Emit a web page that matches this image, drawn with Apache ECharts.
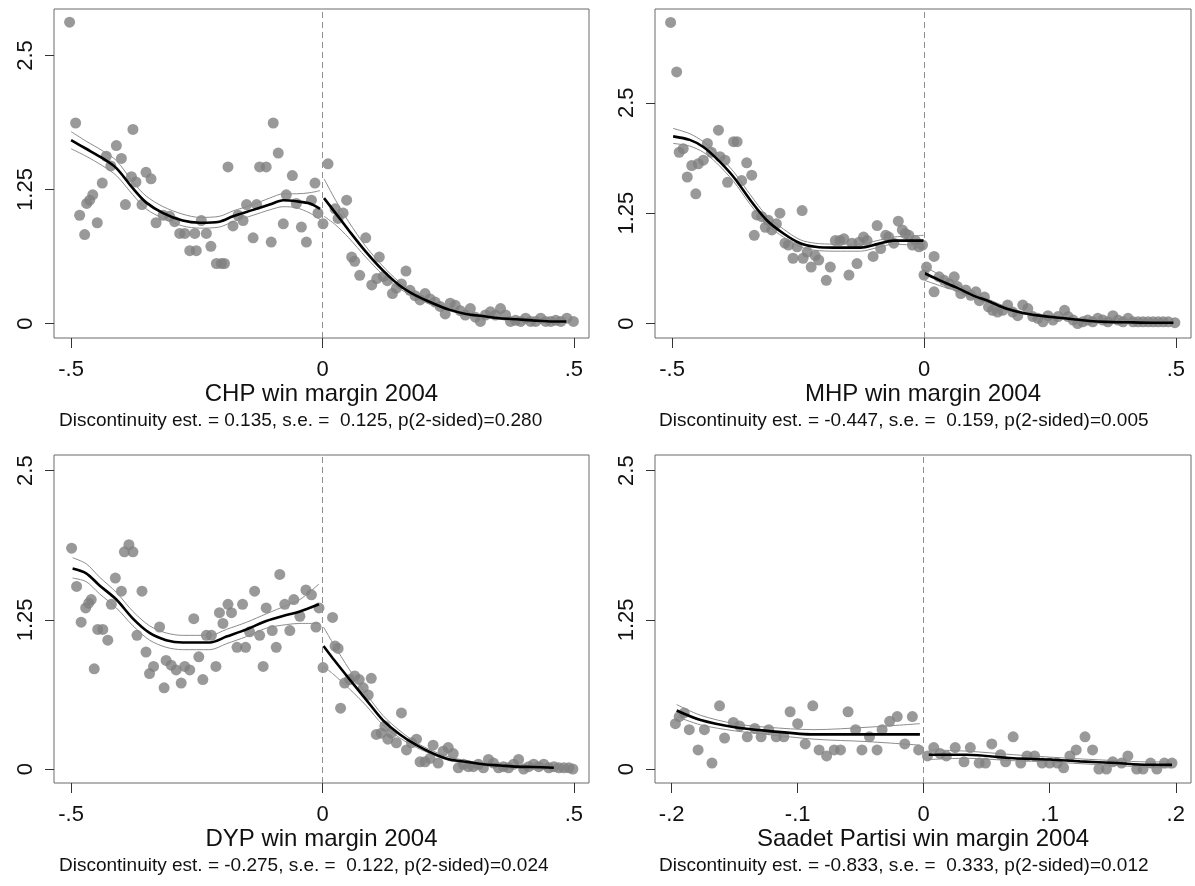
<!DOCTYPE html>
<html lang="en">
<head>
<meta charset="UTF-8">
<title>RD plots 2004</title>
<style>
    * { margin: 0; padding: 0; }
    body { background: #fff; }
    #chart { width: 1195px; height: 886px; }
</style>
</head>
<body>
<div id="chart"></div>
<script src="https://cdn.jsdelivr.net/npm/echarts@6/dist/echarts.min.js"></script>
<script>
// axis titles and notes under each panel
var axisTitles = ['CHP win margin 2004', 'MHP win margin 2004', 'DYP win margin 2004', 'Saadet Partisi win margin 2004'];
var notes = [
    'Discontinuity est. = 0.135, s.e. =  0.125, p(2-sided)=0.280',
    'Discontinuity est. = -0.447, s.e. =  0.159, p(2-sided)=0.005',
    'Discontinuity est. = -0.275, s.e. =  0.122, p(2-sided)=0.024',
    'Discontinuity est. = -0.833, s.e. =  0.333, p(2-sided)=0.012'
];
var xTicksWide = [-0.5, 0, 0.5];
var xTicksNarrow = [-0.2, -0.1, 0, 0.1, 0.2];
var yTicks = [0, 1.25, 2.5];

// binned means [x, y]
var chpPoints = [
    [-0.503,2.81],[-0.491,1.87],[-0.483,1.01],[-0.473,0.83],[-0.469,1.12],[-0.463,1.15],[-0.457,1.20],[-0.448,0.94],
    [-0.438,1.31],[-0.430,1.56],[-0.421,1.47],[-0.410,1.66],[-0.400,1.54],[-0.392,1.11],[-0.377,1.81],[-0.380,1.37],
    [-0.371,1.32],[-0.359,1.11],[-0.351,1.41],[-0.341,1.35],[-0.331,0.94],[-0.317,1.01],[-0.304,1.00],[-0.294,0.95],
    [-0.284,0.84],[-0.274,0.84],[-0.264,0.68],[-0.254,0.84],[-0.251,0.68],[-0.241,0.96],[-0.231,0.84],[-0.222,0.72],
    [-0.211,0.56],[-0.201,0.56],[-0.195,0.56],[-0.188,1.46],[-0.178,0.91],[-0.168,1.01],[-0.158,0.96],[-0.151,1.11],
    [-0.138,0.80],[-0.131,1.11],[-0.125,1.46],[-0.112,1.46],[-0.102,0.76],[-0.098,1.87],[-0.088,1.59],[-0.078,0.93],
    [-0.072,1.20],[-0.060,1.38],[-0.052,1.12],[-0.042,0.90],[-0.032,0.76],[-0.022,1.15],[-0.015,1.31],[-0.009,1.03],
    [0.001,0.93],[0.011,1.49],[0.025,1.07],[0.031,0.98],[0.041,1.03],[0.048,1.15],[0.058,0.62],[0.064,0.58],
    [0.074,0.45],[0.086,0.80],[0.098,0.36],[0.108,0.42],[0.113,0.62],[0.121,0.44],[0.129,0.40],[0.139,0.28],
    [0.147,0.33],[0.157,0.37],[0.166,0.49],[0.174,0.31],[0.184,0.26],[0.194,0.22],[0.204,0.28],[0.214,0.23],
    [0.224,0.20],[0.234,0.16],[0.244,0.09],[0.254,0.19],[0.264,0.17],[0.274,0.12],[0.284,0.08],[0.294,0.14],
    [0.304,0.06],[0.314,0.02],[0.324,0.08],[0.334,0.11],[0.344,0.08],[0.354,0.14],[0.364,0.08],[0.374,0.02],
    [0.384,0.03],[0.394,0.02],[0.404,0.05],[0.414,0.02],[0.424,0.02],[0.434,0.05],[0.444,0.02],[0.454,0.02],
    [0.464,0.03],[0.474,0.02],[0.486,0.05],[0.499,0.02]
];
var mhpPoints = [
    [-0.503,3.41],[-0.491,2.85],[-0.486,1.94],[-0.478,1.98],[-0.470,1.66],[-0.461,1.79],[-0.453,1.47],[-0.448,1.81],
    [-0.438,1.85],[-0.430,2.04],[-0.422,1.94],[-0.408,2.19],[-0.405,1.89],[-0.395,1.85],[-0.390,1.60],[-0.378,2.06],
    [-0.371,2.06],[-0.362,1.62],[-0.352,1.82],[-0.342,1.68],[-0.337,1.00],[-0.332,1.23],[-0.322,1.21],[-0.315,1.09],
    [-0.309,1.17],[-0.302,1.06],[-0.293,1.13],[-0.286,1.25],[-0.276,0.91],[-0.269,0.89],[-0.260,0.74],[-0.252,0.87],
    [-0.242,1.28],[-0.240,0.74],[-0.232,0.81],[-0.224,0.64],[-0.216,0.77],[-0.209,0.72],[-0.194,0.49],[-0.186,0.64],
    [-0.176,0.94],[-0.167,0.94],[-0.159,0.96],[-0.149,0.55],[-0.143,0.91],[-0.133,0.68],[-0.129,0.92],[-0.120,0.98],
    [-0.113,0.94],[-0.101,0.76],[-0.093,1.11],[-0.086,0.85],[-0.076,1.00],[-0.070,0.98],[-0.060,0.91],[-0.051,1.16],
    [-0.043,1.06],[-0.037,1.02],[-0.030,1.00],[-0.023,0.89],[-0.017,0.94],[-0.010,0.87],[-0.003,0.89],
    [0.000,0.55],[0.005,0.64],[0.020,0.76],[0.020,0.36],[0.030,0.53],[0.040,0.49],[0.050,0.45],[0.060,0.53],
    [0.066,0.42],[0.073,0.34],[0.083,0.38],[0.093,0.32],[0.103,0.36],[0.110,0.26],[0.120,0.30],[0.128,0.19],
    [0.136,0.15],[0.146,0.13],[0.156,0.15],[0.166,0.21],[0.176,0.13],[0.186,0.09],[0.196,0.21],[0.206,0.17],
    [0.216,0.08],[0.226,0.06],[0.236,0.02],[0.246,0.09],[0.256,0.04],[0.266,0.08],[0.279,0.15],[0.286,0.08],
    [0.296,0.04],[0.305,0.00],[0.315,0.02],[0.325,0.04],[0.335,0.02],[0.345,0.06],[0.355,0.04],[0.365,0.02],
    [0.375,0.09],[0.385,0.04],[0.395,0.02],[0.405,0.06],[0.415,0.02],[0.425,0.02],[0.435,0.02],[0.445,0.02],
    [0.455,0.02],[0.465,0.02],[0.475,0.02],[0.485,0.02],[0.498,0.01]
];
var dypPoints = [
    [-0.499,1.85],[-0.489,1.53],[-0.480,1.23],[-0.471,1.35],[-0.465,1.39],[-0.460,1.42],[-0.454,0.84],[-0.447,1.17],
    [-0.437,1.17],[-0.427,1.08],[-0.420,1.38],[-0.412,1.60],[-0.400,1.49],[-0.394,1.82],[-0.385,1.88],[-0.377,1.82],
    [-0.369,1.12],[-0.359,1.49],[-0.351,0.98],[-0.344,0.80],[-0.336,0.86],[-0.324,1.19],[-0.315,0.68],[-0.311,0.91],
    [-0.301,0.87],[-0.291,0.83],[-0.281,0.72],[-0.274,0.86],[-0.264,0.83],[-0.256,1.26],[-0.246,0.94],[-0.238,0.75],
    [-0.231,1.12],[-0.221,1.12],[-0.212,0.86],[-0.205,1.31],[-0.198,1.22],[-0.188,1.38],[-0.181,1.31],[-0.170,1.02],
    [-0.159,1.38],[-0.153,1.02],[-0.145,1.15],[-0.135,1.49],[-0.125,1.12],[-0.118,0.86],[-0.112,1.35],[-0.100,1.16],
    [-0.092,1.02],[-0.085,1.63],[-0.075,1.38],[-0.065,1.16],[-0.057,1.42],[-0.045,1.28],[-0.033,1.50],[-0.022,1.46],
    [-0.013,1.19],[-0.007,1.35],
    [0.001,0.85],[0.020,1.27],[0.025,1.03],[0.031,1.01],[0.036,0.51],[0.044,0.72],[0.054,0.75],[0.064,0.78],
    [0.073,0.75],[0.081,0.68],[0.091,0.62],[0.097,0.76],[0.107,0.29],[0.117,0.30],[0.124,0.36],[0.130,0.25],
    [0.137,0.30],[0.147,0.22],[0.157,0.47],[0.167,0.16],[0.177,0.22],[0.187,0.25],[0.194,0.06],[0.204,0.06],
    [0.214,0.09],[0.220,0.20],[0.230,0.05],[0.240,0.15],[0.250,0.18],[0.260,0.13],[0.270,0.01],[0.280,0.04],
    [0.290,0.02],[0.300,0.02],[0.310,0.04],[0.320,0.01],[0.330,0.08],[0.340,0.05],[0.350,0.01],[0.360,0.02],
    [0.370,0.01],[0.380,0.04],[0.390,0.08],[0.400,0.00],[0.410,0.02],[0.420,0.04],[0.430,0.02],[0.440,0.04],
    [0.450,0.01],[0.460,0.02],[0.470,0.01],[0.480,0.01],[0.490,0.01],[0.498,0.00]
];
var spPoints = [
    [-0.197,0.38],[-0.194,0.44],[-0.190,0.47],[-0.186,0.33],[-0.179,0.16],[-0.174,0.33],[-0.168,0.05],[-0.162,0.53],
    [-0.158,0.26],[-0.151,0.39],[-0.146,0.36],[-0.140,0.27],[-0.134,0.34],[-0.129,0.27],[-0.123,0.33],[-0.117,0.27],
    [-0.111,0.27],[-0.106,0.48],[-0.100,0.38],[-0.094,0.21],[-0.088,0.53],[-0.083,0.16],[-0.077,0.11],[-0.071,0.16],
    [-0.066,0.16],[-0.060,0.48],[-0.054,0.33],[-0.049,0.16],[-0.043,0.27],[-0.037,0.16],[-0.033,0.33],[-0.027,0.40],
    [-0.021,0.44],[-0.015,0.21],[-0.009,0.44],[-0.004,0.16],
    [0.003,0.11],[0.008,0.18],[0.013,0.13],[0.018,0.11],[0.025,0.18],[0.032,0.06],[0.037,0.18],[0.044,0.05],
    [0.049,0.05],[0.054,0.21],[0.061,0.12],[0.065,0.06],[0.071,0.27],[0.077,0.05],[0.082,0.11],[0.088,0.11],
    [0.094,0.05],[0.100,0.05],[0.106,0.05],[0.111,0.01],[0.116,0.11],[0.121,0.16],[0.128,0.27],[0.134,0.16],
    [0.139,0.00],[0.145,0.00],[0.150,0.06],[0.157,0.05],[0.162,0.11],[0.169,0.00],[0.174,0.00],[0.180,0.05],
    [0.185,0.00],[0.191,0.05],[0.197,0.05]
];

// local fits [x, fit, lower ci, upper ci], left and right of the cutoff
var chpFitL = [
    [-0.500,1.71,1.63,1.79],[-0.470,1.63,1.56,1.70],[-0.437,1.54,1.47,1.61],[-0.410,1.45,1.38,1.52],
    [-0.377,1.26,1.20,1.32],[-0.351,1.13,1.07,1.19],[-0.317,1.03,0.98,1.09],[-0.278,0.96,0.91,1.02],
    [-0.244,0.94,0.89,0.99],[-0.205,0.95,0.90,1.00],[-0.178,1.00,0.95,1.05],[-0.138,1.06,1.01,1.11],
    [-0.105,1.11,1.06,1.17],[-0.078,1.15,1.09,1.21],[-0.052,1.14,1.08,1.21],[-0.025,1.12,1.03,1.22],
    [-0.005,1.07,0.97,1.24]
];
var chpFitR = [
    [0.003,1.17,1.00,1.35],[0.026,1.03,0.92,1.15],[0.052,0.87,0.80,0.95],[0.086,0.67,0.62,0.72],
    [0.119,0.50,0.46,0.54],[0.152,0.36,0.33,0.39],[0.186,0.26,0.24,0.28],[0.219,0.19,0.17,0.21],
    [0.252,0.13,0.12,0.15],[0.285,0.09,0.08,0.10],[0.318,0.07,0.06,0.08],[0.352,0.05,0.04,0.06],
    [0.385,0.04,0.03,0.05],[0.418,0.03,0.02,0.04],[0.458,0.02,0.01,0.03],[0.485,0.02,0.01,0.03]
];
var mhpFitL = [
    [-0.498,2.12,2.04,2.21],[-0.465,2.08,2.01,2.15],[-0.438,2.00,1.94,2.06],[-0.412,1.87,1.82,1.93],
    [-0.378,1.66,1.61,1.72],[-0.345,1.40,1.35,1.46],[-0.312,1.17,1.12,1.22],[-0.279,1.02,0.98,1.07],
    [-0.246,0.91,0.87,0.95],[-0.216,0.87,0.83,0.91],[-0.179,0.86,0.82,0.90],[-0.126,0.86,0.82,0.90],
    [-0.093,0.90,0.86,0.94],[-0.060,0.94,0.90,0.98],[-0.027,0.94,0.89,0.99],[-0.001,0.94,0.88,1.00]
];
var mhpFitR = [
    [0.001,0.57,0.49,0.65],[0.031,0.49,0.43,0.55],[0.064,0.41,0.37,0.45],[0.097,0.32,0.29,0.35],
    [0.130,0.25,0.23,0.27],[0.163,0.17,0.15,0.19],[0.196,0.12,0.11,0.13],[0.229,0.09,0.08,0.10],
    [0.262,0.07,0.06,0.08],[0.296,0.05,0.04,0.06],[0.329,0.03,0.02,0.04],[0.362,0.02,0.01,0.03],
    [0.402,0.015,0.005,0.025],[0.455,0.01,0.00,0.02],[0.495,0.01,0.00,0.02]
];
var dypFitL = [
    [-0.497,1.68,1.60,1.77],[-0.470,1.64,1.57,1.72],[-0.444,1.54,1.47,1.61],[-0.410,1.42,1.35,1.48],
    [-0.377,1.26,1.20,1.32],[-0.344,1.14,1.08,1.20],[-0.311,1.08,1.02,1.14],[-0.278,1.06,1.00,1.12],
    [-0.224,1.06,1.00,1.12],[-0.191,1.11,1.05,1.17],[-0.151,1.17,1.11,1.23],[-0.112,1.24,1.18,1.30],
    [-0.072,1.29,1.21,1.37],[-0.045,1.32,1.22,1.42],[-0.007,1.38,1.22,1.55]
];
var dypFitR = [
    [0.002,1.03,0.86,1.19],[0.020,0.93,0.80,1.06],[0.054,0.75,0.67,0.83],[0.087,0.58,0.53,0.63],
    [0.120,0.41,0.37,0.45],[0.154,0.29,0.26,0.32],[0.187,0.20,0.18,0.22],[0.220,0.13,0.12,0.15],
    [0.253,0.08,0.07,0.10],[0.287,0.06,0.05,0.07],[0.320,0.04,0.03,0.05],[0.353,0.03,0.02,0.04],
    [0.386,0.02,0.01,0.03],[0.420,0.017,0.007,0.027],[0.460,0.011,0.00,0.02]
];
var spFitL = [
    [-0.196,0.49,0.44,0.54],[-0.177,0.41,0.37,0.45],[-0.150,0.35,0.32,0.38],[-0.124,0.32,0.29,0.35],
    [-0.087,0.29,0.25,0.33],[-0.045,0.29,0.23,0.35],[-0.003,0.29,0.20,0.38]
];
var spFitR = [
    [0.004,0.12,0.08,0.16],[0.034,0.12,0.09,0.15],[0.071,0.09,0.07,0.12],[0.100,0.08,0.06,0.10],
    [0.124,0.064,0.045,0.085],[0.153,0.05,0.03,0.07],[0.177,0.036,0.015,0.06],[0.197,0.035,0.01,0.06]
];

var FONT = 'Liberation Sans, Arial, sans-serif';
var chart = echarts.init(document.getElementById('chart'));

var layout = [
    {grid: {left: 54, top: 9, width: 535, height: 329}, x: [-0.534, 0.53], xt: xTicksWide, y: [-0.1345, 2.933], noteLeft: 59, noteTop: 411},
    {grid: {left: 655, top: 9, width: 536, height: 329}, x: [-0.534, 0.53], xt: xTicksWide, y: [-0.163, 3.562], noteLeft: 659, noteTop: 411},
    {grid: {left: 54, top: 455, width: 535, height: 328}, x: [-0.534, 0.53], xt: xTicksWide, y: [-0.117, 2.631], noteLeft: 59, noteTop: 856},
    {grid: {left: 655, top: 455, width: 536, height: 328}, x: [-0.2132, 0.2121], xt: xTicksNarrow, y: [-0.117, 2.631], noteLeft: 659, noteTop: 856}
];
var pointSets = [chpPoints, mhpPoints, dypPoints, spPoints];
var fitSets = [[chpFitL, chpFitR], [mhpFitL, mhpFitR], [dypFitL, dypFitR], [spFitL, spFitR]];

function fmt(v) {
    if (v === 0) return '0';
    return String(v).replace('0.', '.');
}
function col(rows, k) {
    return rows.map(function (r) { return [r[0], r[k]]; });
}

var grids = [], xAxes = [], yAxes = [], series = [], titles = [];
layout.forEach(function (p, i) {
    grids.push(Object.assign({show: true, borderColor: '#6a6a6a', borderWidth: 1, backgroundColor: '#fff',
        containLabel: false, outerBoundsMode: 'none'}, p.grid));
    xAxes.push({
        gridIndex: i, type: 'value', min: p.x[0], max: p.x[1], position: 'bottom',
        name: axisTitles[i], nameLocation: 'middle', nameGap: 42,
        nameTextStyle: {fontFamily: FONT, fontSize: 24, color: '#111'},
        axisLine: {show: false, onZero: false},
        axisTick: {show: true, inside: false, length: 10, lineStyle: {color: '#333'}, customValues: p.xt},
        axisLabel: {margin: 21, fontFamily: FONT, fontSize: 22, color: '#111', customValues: p.xt, formatter: fmt},
        splitLine: {show: false}
    });
    yAxes.push({
        gridIndex: i, type: 'value', min: p.y[0], max: p.y[1], position: 'left',
        axisLine: {show: false, onZero: false},
        axisTick: {show: true, inside: false, length: 9, lineStyle: {color: '#333'}, customValues: yTicks},
        axisLabel: {margin: 17, rotate: 90, fontFamily: FONT, fontSize: 22, color: '#111', customValues: yTicks, formatter: fmt},
        splitLine: {show: false}
    });
    series.push({
        type: 'scatter', xAxisIndex: i, yAxisIndex: i, data: pointSets[i],
        symbol: 'circle', symbolSize: 11, itemStyle: {color: '#7f7f7f'}, z: 2, silent: true,
        markLine: {
            silent: true, symbol: 'none', label: {show: false},
            lineStyle: {color: '#8f8f8f', type: [6, 4], width: 1},
            data: [{xAxis: 0}]
        }
    });
    fitSets[i].forEach(function (rows) {
        [2, 3].forEach(function (k) {
            series.push({
                type: 'line', xAxisIndex: i, yAxisIndex: i, data: col(rows, k),
                showSymbol: false, smooth: 0.3, silent: true,
                lineStyle: {color: '#8c8c8c', width: 1}, z: 3
            });
        });
        series.push({
            type: 'line', xAxisIndex: i, yAxisIndex: i, data: col(rows, 1),
            showSymbol: false, smooth: 0.3, silent: true,
            lineStyle: {color: '#000', width: 2.6}, z: 4
        });
    });
    titles.push({
        text: notes[i], left: p.noteLeft, top: p.noteTop, padding: 0,
        textStyle: {fontFamily: FONT, fontSize: 19, fontWeight: 'normal', color: '#111'}
    });
});

chart.setOption({
    backgroundColor: '#fff',
    animation: false,
    title: titles,
    grid: grids,
    xAxis: xAxes,
    yAxis: yAxes,
    series: series
});
</script>
</body>
</html>
